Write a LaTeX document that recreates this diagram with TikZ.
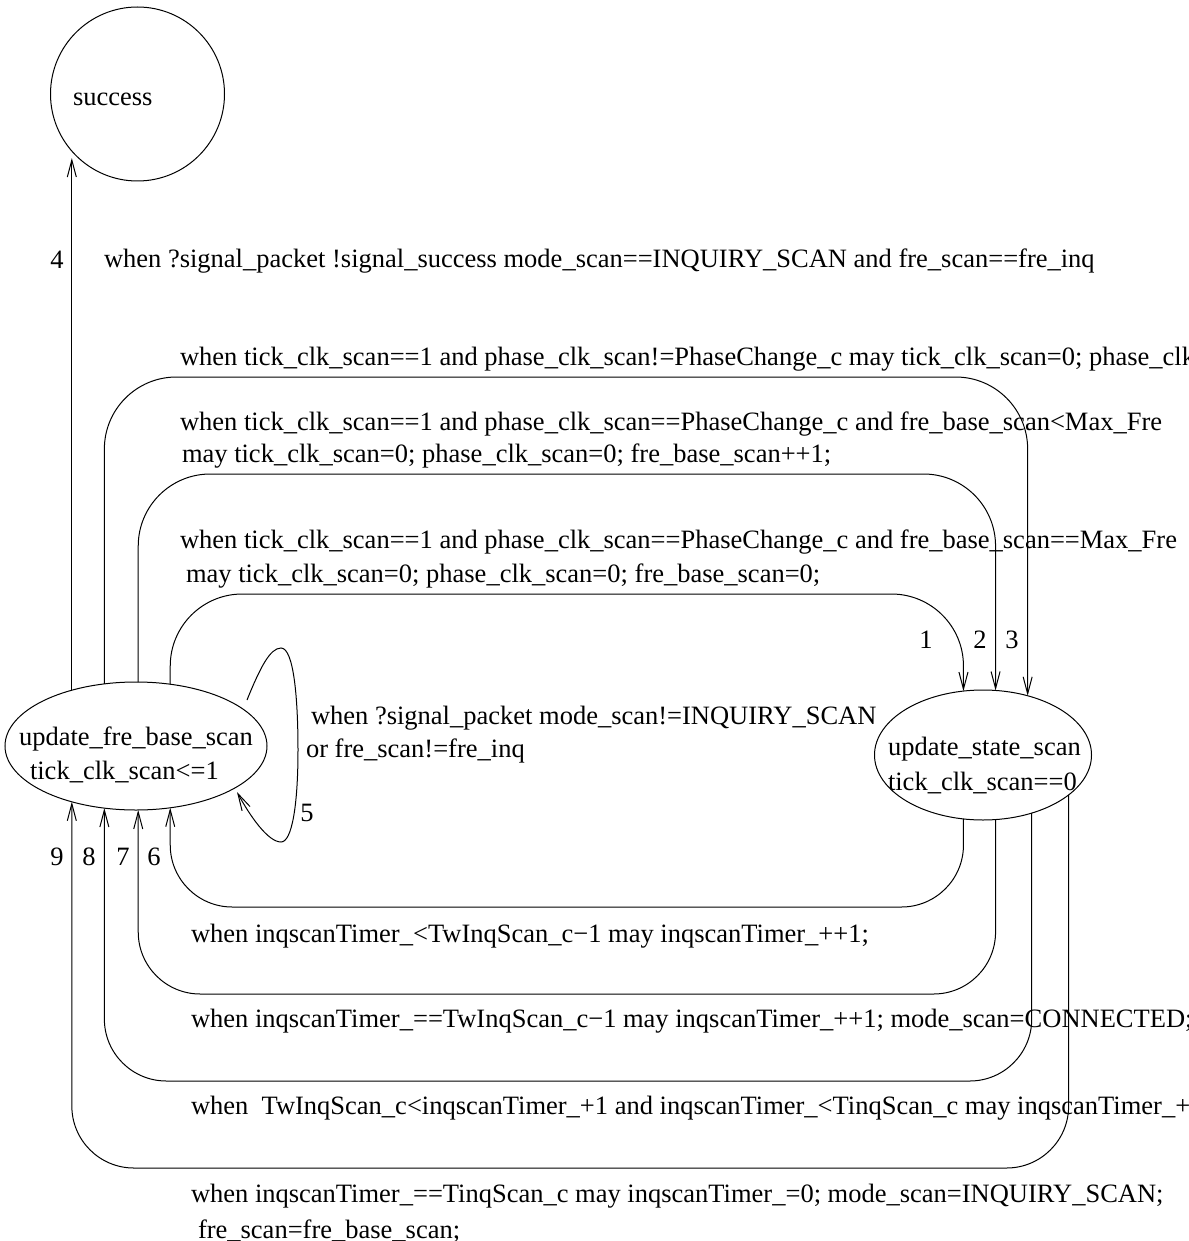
\documentclass[tikz,border=0pt]{standalone}
\usepackage{fontspec}
\setmainfont{Liberation Serif}
\usetikzlibrary{arrows.meta,calc,shapes.geometric}
\begin{document}
\begin{tikzpicture}[x=1pt,y=-1pt,
  every node/.style={inner sep=0pt, outer sep=0pt},
  lbl/.style={anchor=base west, font=\fontsize{26.5}{33}\selectfont},
  num/.style={anchor=center, font=\fontsize{26.5}{33}\selectfont},
  stateell/.style={draw, ellipse, line width=1pt},
  trans/.style={line width=1pt, -{Straight Barb[length=17pt,width=9pt,line width=1pt]}},
  toploop/.style={trans, rounded corners=72pt},
  botloop/.style={trans, rounded corners=62pt}]
\useasboundingbox (0,0) rectangle (1188,1241);
\clip (0,0) rectangle (1188,1241);

% states
\node[draw, circle, minimum size=174pt, line width=1pt] (sc) at (137.5,94) {};
\node[lbl] (sct) at (73,106) {success};

\node[stateell, minimum width=262pt, minimum height=128pt] (fb) at (136,746) {};
\node[lbl] (fbt1) at (19,745) {update\_fre\_base\_scan};
\node[lbl] (fbt2) at (30,779) {tick\_clk\_scan<=1};

\node[stateell, minimum width=217pt, minimum height=130pt] (st) at (983,755) {};
\node[lbl] (stt1) at (888,755) {update\_state\_scan};
\node[lbl] (stt2) at (888,790) {tick\_clk\_scan==0};

% transition 4
\draw[trans, shorten >=7pt] (fb.139) -- (fb.139 |- sc.221);

% transitions 1-3
\draw[toploop] (fb.117) -- (fb.117 |- 0,377) -- (st.53 |- 0,377) -- (st.53);
\draw[toploop] (fb.88) -- (fb.88 |- 0,474) -- (st.79 |- 0,474) -- (st.79);
\draw[toploop] (fb.61) -- (fb.61 |- 0,594) -- (st.107 |- 0,594) -- (st.107);

% transitions 6-9
\draw[botloop] (st.253) -- (st.253 |- 0,907) -- (fb.299 |- 0,907) -- (fb.299);
\draw[botloop] (st.281) -- (st.281 |- 0,994) -- (fb.272 |- 0,994) -- (fb.272);
\draw[botloop] (st.310) -- (st.310 |- 0,1081) -- (fb.243 |- 0,1081) -- (fb.243);
\draw[botloop] (st.335) -- (st.335 |- 0,1168) -- (fb.221 |- 0,1168) -- (fb.221);

% self loop 5
\draw[trans] ($(fb.center)+(111,-46)$) .. controls (260,668) and (270,648) .. (281,648)
  .. controls (294,648) and (298,700) .. (298,750)
  .. controls (298,805) and (292,842) .. (281,842)
  .. controls (268,842) and (250,816) .. ($(fb.center)+(101,46)$);

% numbers
\node[num] (n4) at (57,260) {4};
\node[num] (n1) at (926,640) {1};
\node[num] (n2) at (980,640) {2};
\node[num] (n3) at (1012,640) {3};
\node[num] (n5) at (307,813) {5};
\node[num] (n9) at (57,857) {9};
\node[num] (n8) at (89,857) {8};
\node[num] (n7) at (123,857) {7};
\node[num] (n6) at (154,857) {6};

% guards
\node[lbl] (t4) at (104,267) {when ?signal\_packet !signal\_success mode\_scan==INQUIRY\_SCAN and fre\_scan==fre\_inq};
\node[lbl] (t3) at (180,365) {when tick\_clk\_scan==1 and phase\_clk\_scan!=PhaseChange\_c may tick\_clk\_scan=0; phase\_clk\_scan++1;};
\node[lbl] (t2a) at (180,430) {when tick\_clk\_scan==1 and phase\_clk\_scan==PhaseChange\_c and fre\_base\_scan<Max\_Fre};
\node[lbl] (t2b) at (182,462) {may tick\_clk\_scan=0; phase\_clk\_scan=0; fre\_base\_scan++1;};
\node[lbl] (t1a) at (180,548) {when tick\_clk\_scan==1 and phase\_clk\_scan==PhaseChange\_c and fre\_base\_scan==Max\_Fre};
\node[lbl] (t1b) at (186,582) {may tick\_clk\_scan=0; phase\_clk\_scan=0; fre\_base\_scan=0;};
\node[lbl] (t5a) at (311,724) {when ?signal\_packet mode\_scan!=INQUIRY\_SCAN};
\node[lbl] (t5b) at (306,757) {or fre\_scan!=fre\_inq};
\node[lbl] (t6) at (191,942) {when inqscanTimer\_<TwInqScan\_c−1 may inqscanTimer\_++1;};
\node[lbl] (t7) at (191,1027) {when inqscanTimer\_==TwInqScan\_c−1 may inqscanTimer\_++1; mode\_scan=CONNECTED;};
\node[lbl] (t8) at (191,1114) {when\ \ TwInqScan\_c<inqscanTimer\_+1 and inqscanTimer\_<TinqScan\_c may inqscanTimer\_++1;};
\node[lbl] (t9a) at (191,1202) {when inqscanTimer\_==TinqScan\_c may inqscanTimer\_=0; mode\_scan=INQUIRY\_SCAN;};
\node[lbl] (t9b) at (198,1238) {fre\_scan=fre\_base\_scan;};
\end{tikzpicture}
\end{document}
